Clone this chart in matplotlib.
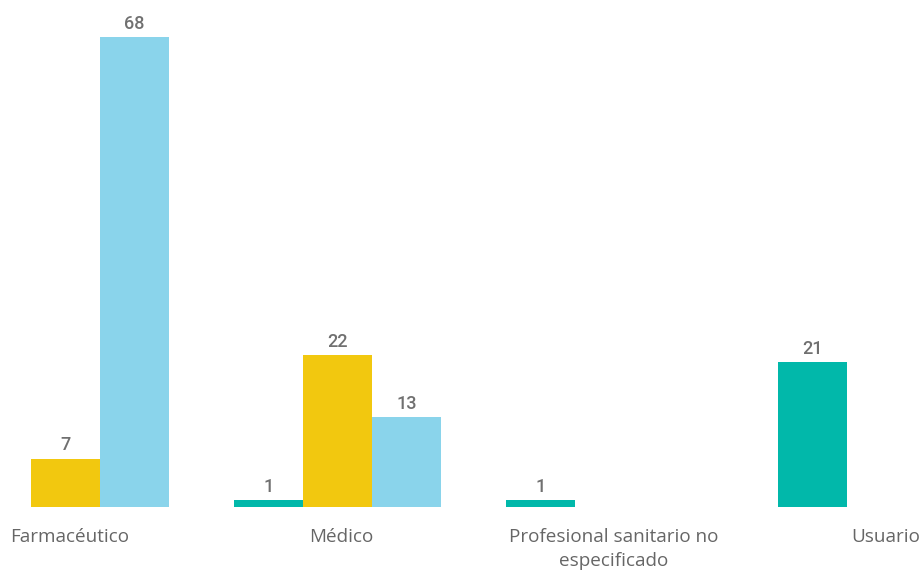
import matplotlib
matplotlib.use("Agg")
import matplotlib.pyplot as plt
import matplotlib.transforms as mtransforms
import numpy as np

categories = ["Farmacéutico", "Médico", "Profesional sanitario no\nespecificado", "Usuario"]
series_names = ["Serie A", "Serie B", "Serie C"]
series_values = [
    [None, 1, 1, 21],     # teal
    [7, 22, None, None],  # yellow
    [68, 13, None, None], # light blue
]
colors = ["#01B8AA", "#F2C80F", "#8AD4EB"]

fig = plt.figure(figsize=(9.23, 5.70), dpi=100)
ax = fig.add_axes([0, 63 / 570, 1, 507 / 570])

x = np.arange(len(categories))
width = 0.254
offsets = [-width, 0, width]

for vals, col, off in zip(series_values, colors, offsets):
    for xi, v in zip(x, vals):
        if v is None:
            continue
        ax.bar(xi + off, v, width=width, color=col, edgecolor="none")
        ax.annotate(str(v), (xi + off, v), xytext=(0, 6), textcoords="offset points",
                    ha="center", va="baseline", fontsize=13, color="#707070",
                    family="Roboto", fontweight="medium", fontstretch="condensed")

ax.set_xlim(-0.241, 3.153)
ax.set_ylim(0, 73.4)
ax.set_xticks(x)
ax.set_xticklabels(categories, fontsize=13.6, color="#666666", family="Open Sans",
                   linespacing=1.45)
ax.tick_params(axis="x", length=0, pad=15)
shift = mtransforms.ScaledTranslation(4 / 100, 0, fig.dpi_scale_trans)
for lbl in ax.get_xticklabels():
    lbl.set_transform(lbl.get_transform() + shift)
ax.set_yticks([])
for s in ax.spines.values():
    s.set_visible(False)

fig.savefig("out.png", dpi=100)
